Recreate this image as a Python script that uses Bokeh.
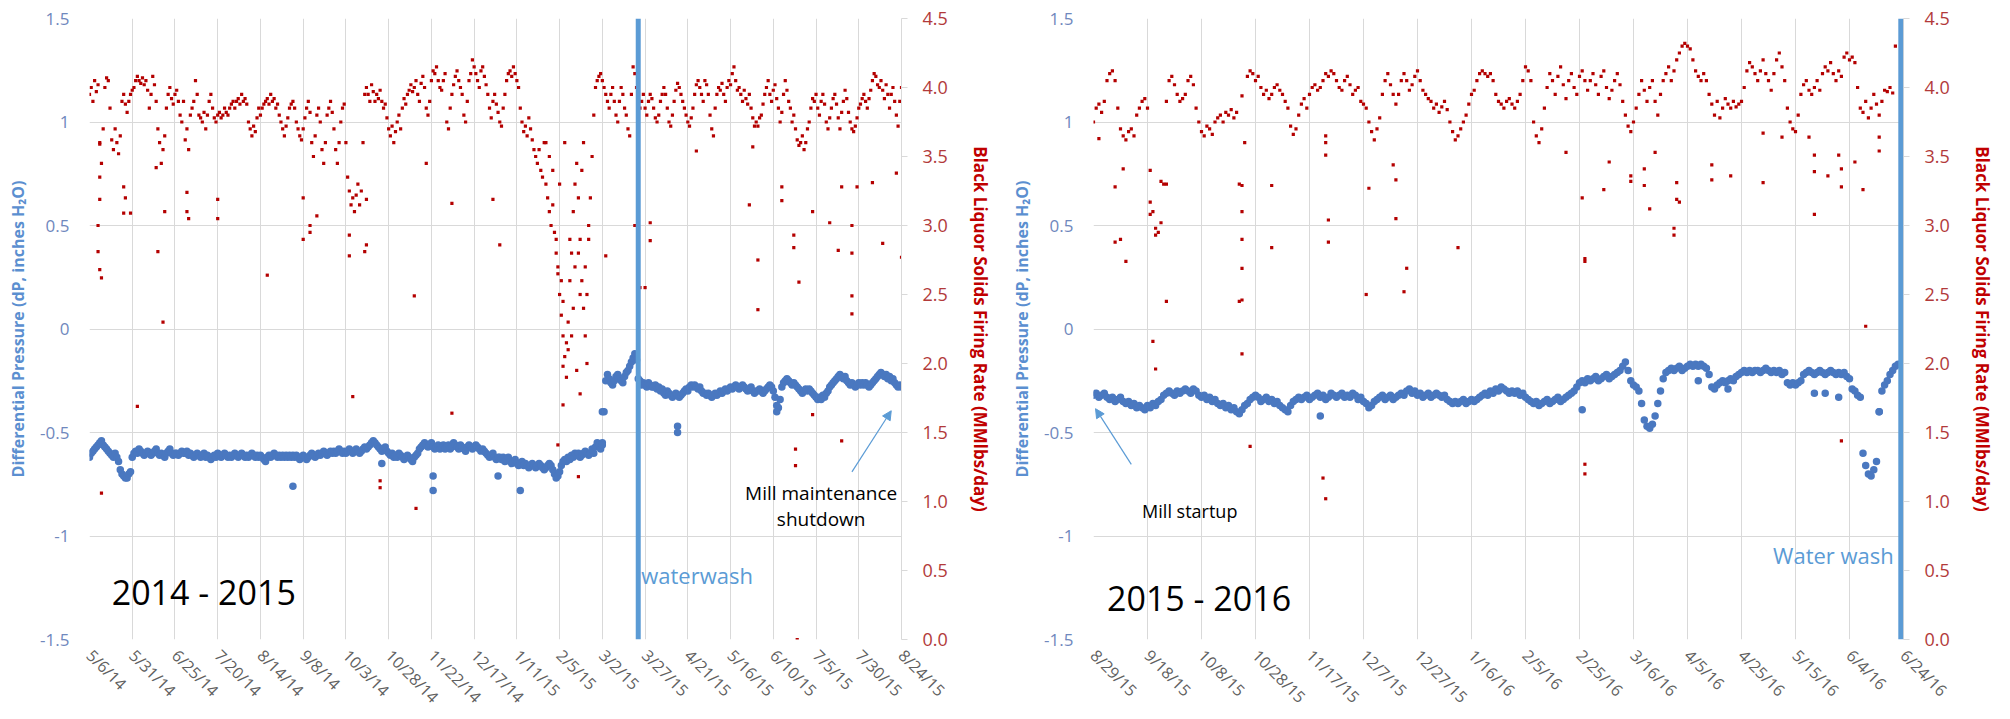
import math
import pandas as pd
from bokeh.plotting import figure
from bokeh.models import (Range1d, LinearAxis, FixedTicker, NumeralTickFormatter,
                          Span, Label, Arrow, NormalHead, ColumnDataSource)
from bokeh.layouts import row
from bokeh.embed import file_html
from bokeh.resources import INLINE

# ---------------------------------------------------------------- data
left_tick_labels = ["5/6/14", "5/31/14", "6/25/14", "7/20/14", "8/14/14", "9/8/14", "10/3/14",
                    "10/28/14", "11/22/14", "12/17/14", "1/11/15", "2/5/15", "3/2/15", "3/27/15",
                    "4/21/15", "5/16/15", "6/10/15", "7/5/15", "7/30/15", "8/24/15"]
right_tick_labels = ["8/29/15", "9/18/15", "10/8/15", "10/28/15", "11/17/15", "12/7/15", "12/27/15",
                     "1/16/16", "2/5/16", "2/25/16", "3/16/16", "4/5/16", "4/25/16", "5/15/16",
                     "6/4/16", "6/24/16"]
dp_tick_labels = ["-1.5", "-1", "-0.5", "0", "0.5", "1", "1.5"]
rate_tick_labels = ["0.0", "0.5", "1.0", "1.5", "2.0", "2.5", "3.0", "3.5", "4.0", "4.5"]

left_title = "2014 - 2015"
right_title = "2015 - 2016"
left_wash_date = "2015-03-23"
right_wash_date = "2016-06-23"

# daily black liquor solids firing rate (MMlbs/day), 2014-05-06 .. 2015-08-24
left_rate_start = "2014-05-06"
left_rate = [
    3.95, 4.0, 3.9, 4.05, 3.97, 4.02, 3.6, 3.45, 3.7, 4.0, 4.07, 4.05, 3.85, 3.62, 3.55, 3.7, 3.6, 3.52, 3.65, 3.9, 3.95, 3.88, 3.82, 3.9, 3.95, 3.98,
    4.0, 4.05, 4.08, 4.05, 4.03, 4.07, 4.02, 4.05, 3.98, 3.85, 3.95, 4.08, 4.02, 3.9, 3.7, 3.6, 3.45, 3.55, 3.65, 3.85, 3.95, 4.0, 3.92, 3.88, 3.95, 3.98, 3.9, 3.8, 3.75, 3.9,
    3.62, 3.7, 3.55, 3.8, 3.85, 3.9, 4.05, 3.95, 3.8, 3.78, 3.75, 3.82, 3.7, 3.8, 3.9, 3.95, 3.85, 3.78, 3.75, 3.8, 3.82, 3.78, 3.8, 3.85, 3.82, 3.8, 3.85, 3.88, 3.9, 3.85, 3.9,
    3.92, 3.88, 3.95, 3.9, 3.92, 3.88, 3.75, 3.7, 3.65, 3.72, 3.68, 3.78, 3.85, 3.8, 3.85, 3.88, 3.9, 3.92, 3.88, 3.95, 3.9, 3.92, 3.85, 3.88, 3.8, 3.75, 3.7, 3.65, 3.72, 3.78, 3.85,
    3.88, 3.9, 3.85, 3.75, 3.7, 3.65, 3.62, 3.7, 3.78, 3.85, 3.9, 3.82, 3.6, 3.5, 3.65, 3.8, 3.85, 3.75, 3.55, 3.45, 3.6, 3.8, 3.85, 3.9, 3.82, 3.7, 3.55, 3.45, 3.6, 3.75,
    3.85, 3.88, 3.6, 3.35, 3.25, 3.15, 3.2, 3.1, 3.22, 3.3, 3.15, 3.25, 3.6, 3.95, 4.0, 3.95, 3.9, 4.02, 3.97, 3.9, 3.95, 3.92, 3.98, 3.9, 3.85, 3.88, 3.78, 3.7, 3.65, 3.72, 3.6,
    3.68, 3.75, 3.8, 3.7, 3.85, 3.92, 3.88, 3.95, 3.98, 4.02, 3.97, 4.0, 4.05, 3.95, 3.9, 4.03, 4.08, 4.0, 3.85, 3.8, 3.9, 4.05, 4.12, 4.1, 4.15, 4.05, 4.0, 3.98, 4.05, 4.1,
    3.75, 3.7, 3.85, 3.95, 4.02, 4.08, 4.12, 4.05, 4.0, 3.95, 3.8, 3.75, 3.9, 4.05, 4.1, 4.2, 4.15, 4.1, 4.05, 4.0, 4.12, 4.15, 4.08, 4.02, 3.95, 3.85, 3.78, 3.9, 3.95, 3.88, 3.82,
    3.75, 3.72, 3.85, 3.95, 4.05, 4.1, 4.12, 4.08, 4.15, 4.1, 4.05, 4.0, 3.85, 3.75, 3.68, 3.72, 3.65, 3.78, 3.7, 3.62, 3.55, 3.5, 3.45, 3.55, 3.4, 3.35, 3.6, 3.3, 3.2, 3.1, 3.0,
    3.15, 2.95, 2.8, 2.65, 2.5, 2.35, 2.2, 2.05, 2.15, 2.3, 2.6, 2.8, 3.1, 3.3, 3.45, 3.2, 2.9, 2.6, 2.4, 2.2, 2.5, 2.9, 3.2, 3.5, 3.8, 4.0, 4.05, 4.08,
    4.1, 4.05, 4.0, 3.95, 3.9, 3.85, 3.95, 4.0, 3.9, 3.8, 3.75, 3.9, 4.0, 3.95, 3.85, 3.8, 3.7, 3.65, 3.95, 4.15, 4.1, 4.0, 3.8, 3.85, 3.9, 3.95, 3.85, 3.8, 3.9, 3.95, 3.92,
    3.85, 3.78, 3.75, 3.8, 3.9, 3.95, 4.0, 3.95, 3.85, 3.75, 3.72, 3.8, 3.9, 3.98, 4.03, 4.0, 3.95, 3.9, 3.85, 3.8, 3.75, 3.72, 3.78, 3.85, 3.95, 4.02, 4.05, 4.0, 3.95, 3.9,
    4.05, 4.02, 3.95, 3.8, 3.7, 3.65, 3.85, 3.95, 4.0, 3.98, 4.03, 3.95, 3.9, 4.0, 4.05, 4.02, 4.1, 4.15, 4.05, 3.98, 4.0, 3.95, 3.9, 3.98, 3.92, 3.88, 3.95, 3.85, 3.78, 3.72, 3.75,
    3.72, 3.78, 3.8, 3.88, 3.95, 4.0, 4.05, 3.95, 3.9, 3.98, 4.02, 3.92, 3.85, 3.75, 3.82, 3.95, 4.05, 3.98, 3.9, 3.85, 3.75, 3.8, 3.7, 3.62, 3.58, 3.6, 3.65, 3.55, 3.6, 3.7,
    3.75, 3.85, 3.92, 3.9, 3.95, 3.85, 3.8, 3.9, 3.95, 3.88, 3.75, 3.7, 3.78, 3.85, 3.92, 3.95, 3.88, 3.78, 3.7, 3.82, 3.9, 3.98, 3.92, 3.82, 3.75, 3.7, 3.68, 3.72, 3.78, 3.85, 3.88,
    3.92, 3.95, 3.9, 3.85, 3.92, 3.98, 4.05, 4.1, 4.08, 4.02, 4.0, 4.05, 3.98, 3.92, 4.02, 3.95, 3.85, 3.95, 4.0, 3.9, 3.8, 3.72, 3.9, 4.0,
]
left_rate_extra_dates = [
    "2014-05-12", "2014-05-12", "2014-05-12", "2014-05-11", "2014-05-11", "2014-05-12", "2014-05-13", "2014-05-13",
    "2014-05-26", "2014-05-26", "2014-05-27", "2014-05-30", "2014-06-03", "2014-06-14", "2014-06-15", "2014-06-18",
    "2014-06-19", "2014-07-02", "2014-07-02", "2014-07-03", "2014-07-20", "2014-07-20", "2014-08-18", "2014-09-08",
    "2014-09-08", "2014-09-12", "2014-09-12", "2014-09-16", "2014-10-05", "2014-10-05", "2014-10-07", "2014-10-14",
    "2014-10-15", "2014-10-15", "2014-10-23", "2014-10-23", "2014-11-12", "2014-11-13", "2014-11-19", "2014-12-04",
    "2014-12-04", "2014-12-28", "2015-01-01", "2015-01-28", "2015-01-30", "2015-02-01", "2015-02-03", "2015-02-04",
    "2015-02-04", "2015-02-05", "2015-02-06", "2015-02-07", "2015-02-07", "2015-02-07", "2015-02-08", "2015-02-09",
    "2015-02-10", "2015-02-11", "2015-02-12", "2015-02-13", "2015-02-14", "2015-02-15", "2015-02-16", "2015-02-16",
    "2015-02-17", "2015-02-17", "2015-02-18", "2015-02-19", "2015-02-20", "2015-02-21", "2015-02-22", "2015-03-04",
    "2015-03-21", "2015-03-22", "2015-03-23", "2015-03-24", "2015-03-27", "2015-03-30", "2015-03-30", "2015-04-26",
    "2015-05-27", "2015-05-29", "2015-06-01", "2015-06-01", "2015-06-15", "2015-06-15", "2015-06-22", "2015-06-22",
    "2015-06-25", "2015-06-23", "2015-06-23", "2015-06-24", "2015-07-03", "2015-07-03", "2015-07-13", "2015-07-18",
    "2015-07-20", "2015-07-20", "2015-07-26", "2015-07-26", "2015-07-26", "2015-07-26", "2015-07-29", "2015-08-07",
    "2015-08-13", "2015-08-21", "2015-08-24",
]
left_rate_extra = [
    3.59, 3.35, 3.19, 3.0, 2.81, 2.68, 2.62, 1.06,
    3.28, 3.09, 3.2, 3.09, 1.69, 3.42, 2.81, 2.30,
    3.1, 3.24, 3.1, 3.05, 3.19, 3.05, 2.64, 3.2,
    2.9, 3.0, 2.95, 3.07, 2.93, 2.78, 1.76, 2.81,
    2.86, 3.19, 1.15, 1.1, 2.49, 0.95, 3.45, 3.16,
    1.64, 3.19, 2.86, 3.6, 3.5, 3.4, 2.9, 2.7,
    1.41, 3.3, 2.6, 2.45, 1.70, 1.98, 3.6, 1.9,
    2.1, 2.9, 2.2, 2.4, 2.7, 1.95, 2.8, 1.18,
    2.5, 1.78, 3.4, 3.6, 2.7, 2.0, 3.0, 2.78,
    3.0, 3.0, 3.4, 2.55, 2.55, 3.02, 2.89, 3.54,
    3.15, 3.57, 2.75, 2.39, 3.28, 3.18, 2.93, 2.84,
    2.59, 1.38, 1.26, 0.0, 3.1, 1.63, 3.02, 2.82,
    3.28, 1.44, 2.8, 2.49, 2.36, 3.0, 3.28, 3.31,
    2.87, 3.38, 2.77,
]

# daily differential pressure (inches H2O), 2014-05-06 .. 2015-08-24
left_dp_start = "2014-05-06"
left_dp = [
    -0.62, -0.6, -0.59, -0.58, -0.57, -0.56, -0.55, -0.54, -0.56, -0.57, -0.58, -0.59, -0.6, -0.61, -0.62, -0.6, -0.62, -0.64, -0.68, -0.7, -0.71, -0.72, -0.72, -0.7, -0.69, -0.62,
    -0.6, -0.59, -0.6, -0.58, -0.59, -0.6, -0.61, -0.6, -0.59, -0.6, -0.61, -0.6, -0.59, -0.58, -0.6, -0.61, -0.6, -0.61, -0.62, -0.6, -0.59, -0.58, -0.6, -0.61, -0.6, -0.6, -0.61, -0.6, -0.59, -0.6,
    -0.6, -0.59, -0.61, -0.6, -0.61, -0.62, -0.61, -0.6, -0.61, -0.62, -0.61, -0.6, -0.62, -0.61, -0.62, -0.63, -0.62, -0.61, -0.62, -0.6, -0.61, -0.62, -0.61, -0.6, -0.61, -0.62, -0.61, -0.62, -0.61, -0.6, -0.61,
    -0.62, -0.61, -0.6, -0.61, -0.62, -0.61, -0.62, -0.61, -0.6, -0.61, -0.62, -0.61, -0.62, -0.61, -0.62, -0.63, -0.64, -0.62, -0.61, -0.62, -0.61, -0.6, -0.61, -0.62, -0.61, -0.62, -0.61, -0.62, -0.61, -0.62, -0.61,
    -0.62, -0.61, -0.62, -0.61, -0.62, -0.63, -0.62, -0.61, -0.62, -0.63, -0.62, -0.61, -0.6, -0.61, -0.62, -0.61, -0.6, -0.61, -0.6, -0.59, -0.6, -0.61, -0.6, -0.59, -0.6, -0.59, -0.6, -0.59, -0.58, -0.59,
    -0.6, -0.59, -0.6, -0.59, -0.58, -0.59, -0.6, -0.59, -0.58, -0.59, -0.6, -0.59, -0.58, -0.57, -0.58, -0.57, -0.56, -0.55, -0.54, -0.55, -0.56, -0.57, -0.58, -0.59, -0.58, -0.57, -0.59, -0.6, -0.61, -0.6, -0.62,
    -0.61, -0.62, -0.6, -0.61, -0.62, -0.63, -0.62, -0.61, -0.62, -0.63, -0.64, -0.62, -0.61, -0.6, -0.58, -0.57, -0.56, -0.55, -0.56, -0.57, -0.56, -0.55, -0.57, -0.58, -0.57, -0.56, -0.58, -0.57, -0.56, -0.58,
    -0.57, -0.56, -0.58, -0.57, -0.55, -0.56, -0.57, -0.58, -0.56, -0.57, -0.58, -0.59, -0.57, -0.56, -0.57, -0.58, -0.57, -0.56, -0.57, -0.58, -0.59, -0.58, -0.59, -0.6, -0.61, -0.62, -0.61, -0.6, -0.62, -0.63, -0.62,
    -0.62, -0.63, -0.62, -0.64, -0.63, -0.62, -0.64, -0.65, -0.64, -0.63, -0.65, -0.66, -0.65, -0.64, -0.66, -0.65, -0.66, -0.67, -0.66, -0.65, -0.66, -0.67, -0.66, -0.65, -0.66, -0.67, -0.68, -0.67, -0.66, -0.65, -0.66,
    -0.68, -0.7, -0.72, -0.71, -0.69, -0.66, -0.64, -0.63, -0.64, -0.62, -0.63, -0.61, -0.62, -0.6, -0.61, -0.6, -0.62, -0.61, -0.6, -0.59, -0.6, -0.61, -0.6, -0.58, -0.6, -0.57, -0.55, -0.56,
    -0.58, -0.55, -0.4, -0.25, -0.22, -0.24, -0.26, -0.27, -0.25, -0.23, -0.22, -0.24, -0.25, -0.26, -0.23, -0.21, -0.2, -0.18, -0.16, -0.14, -0.12, -0.15, -0.24, -0.25, -0.27, -0.26, -0.27, -0.28, -0.26, -0.27, -0.28,
    -0.28, -0.27, -0.29, -0.28, -0.3, -0.29, -0.31, -0.32, -0.3, -0.31, -0.32, -0.33, -0.32, -0.31, -0.32, -0.33, -0.32, -0.31, -0.3, -0.29, -0.3, -0.28, -0.27, -0.28, -0.27, -0.28, -0.29, -0.28, -0.3, -0.31,
    -0.31, -0.32, -0.31, -0.32, -0.33, -0.32, -0.31, -0.32, -0.31, -0.3, -0.31, -0.3, -0.29, -0.3, -0.29, -0.28, -0.29, -0.28, -0.27, -0.28, -0.29, -0.28, -0.27, -0.28, -0.29, -0.3, -0.29, -0.28, -0.3, -0.31, -0.3,
    -0.3, -0.29, -0.3, -0.31, -0.3, -0.29, -0.28, -0.27, -0.28, -0.3, -0.33, -0.37, -0.38, -0.34, -0.28, -0.26, -0.25, -0.24, -0.25, -0.26, -0.27, -0.26, -0.27, -0.28, -0.29, -0.3, -0.31, -0.3, -0.29, -0.3,
    -0.29, -0.3, -0.31, -0.32, -0.33, -0.34, -0.33, -0.34, -0.32, -0.33, -0.31, -0.3, -0.28, -0.27, -0.26, -0.25, -0.24, -0.23, -0.22, -0.23, -0.24, -0.23, -0.25, -0.26, -0.27, -0.26, -0.27, -0.28, -0.27, -0.26, -0.27,
    -0.26, -0.27, -0.26, -0.27, -0.28, -0.27, -0.26, -0.25, -0.24, -0.23, -0.22, -0.21, -0.22, -0.23, -0.22, -0.24, -0.23, -0.25, -0.24, -0.26, -0.27, -0.28, -0.27, -0.28,
]
left_dp_extra_dates = ["2014-09-02", "2014-10-24", "2014-11-23", "2014-11-23", "2014-12-31", "2015-01-13",
                       "2015-03-02", "2015-03-02", "2015-04-15", "2015-04-15", "2015-06-12"]
left_dp_extra = [-0.76, -0.65, -0.71, -0.78, -0.71, -0.78, -0.4, -0.56, -0.47, -0.5, -0.4]

# daily firing rate, 2015-08-29 .. 2016-06-21
right_rate_start = "2015-08-29"
right_rate = [
    3.75, 3.85, 3.88,
    3.82, 3.9, 4.05, 4.1, 4.12, 4.05, 3.85, 3.7, 3.65, 3.62, 3.68, 3.7, 3.65, 3.8, 3.85, 3.9, 3.92, 3.85, 3.4, 3.1, 2.98, 2.95, 3.02, 3.3, 3.9, 4.05, 4.08, 4.02, 3.95, 3.9,
    3.92, 3.95, 4.05, 4.08, 4.02, 3.85, 3.75, 3.68, 3.65, 3.72, 3.7, 3.66, 3.75, 3.78, 3.8, 3.75, 3.82, 3.8, 3.84, 3.78, 3.82, 3.3, 2.9, 3.6, 4.08, 4.12, 4.1, 4.05, 4.08, 4.0, 3.95,
    3.98, 3.92, 3.95, 4.0, 4.02, 3.98, 3.95, 3.9, 3.85, 3.72, 3.66, 3.7, 3.8, 3.88, 3.92, 3.85, 3.95, 4.0, 4.02, 3.98, 4.0, 4.05, 4.1, 4.08, 4.12, 4.1, 4.05, 4.0, 3.98, 4.05,
    4.08, 4.02, 3.95, 3.98, 4.0, 3.9, 3.88, 3.85, 3.75, 3.68, 3.62, 3.7, 3.78, 3.95, 4.05, 4.1, 4.02, 3.95, 3.88, 3.95, 4.05, 4.1, 4.05, 3.98, 4.02, 4.08, 4.12, 4.05, 3.98, 3.95, 3.92,
    3.9, 3.85, 3.88, 3.82, 3.86, 3.9, 3.84, 3.75, 3.68, 3.62, 3.65, 3.7, 3.75, 3.8, 3.88, 3.95, 3.98, 4.05, 4.1, 4.12, 4.1, 4.08, 4.1, 4.05, 3.95, 3.9, 3.88, 3.85, 3.9, 3.92, 3.88,
    3.85, 3.9, 3.95, 4.05, 4.15, 4.12, 4.05, 3.75, 3.65, 3.6, 3.7, 3.85, 4.0, 4.1, 4.05, 3.95, 4.08, 4.15, 4.02, 3.92, 4.05, 4.1, 4.0, 3.95, 4.08, 4.12, 4.05, 3.98, 4.05,
    4.1, 4.02, 3.95, 4.08, 4.12, 4.0, 3.92, 3.98, 4.05, 4.1, 4.02, 3.9, 3.8, 3.72, 3.68, 3.75, 3.85, 3.95, 4.05, 3.98, 3.9, 4.0, 4.05, 3.9, 3.8, 3.95, 4.05, 4.1, 4.15, 4.05, 4.12,
    4.2, 4.25, 4.3, 4.32, 4.3, 4.28, 4.2, 4.12, 4.08, 4.05, 4.1, 4.05, 3.95, 3.88, 3.8, 3.9, 3.78, 3.85, 3.92, 3.88, 3.85, 3.9, 3.86, 3.88, 3.9, 4.0, 4.12, 4.18, 4.15, 4.1,
    4.05, 4.12, 4.2, 4.1, 4.05, 3.98, 4.1, 4.2, 4.25, 4.15, 4.05, 3.85, 3.75, 3.7, 3.68, 3.8, 3.95, 4.02, 4.05, 3.98, 3.95, 4.0, 4.05, 3.98, 4.1, 4.15, 4.12, 4.18, 4.1, 4.05, 4.12,
    4.08, 4.22, 4.25, 4.2, 4.22, 4.18, 4.0, 3.85, 3.82, 3.9, 3.78, 3.85, 3.95, 3.88, 3.8, 3.9, 3.98, 3.97, 4.0, 3.96, 4.3,
]
right_rate_extra_dates = [
    "2015-08-31", "2015-09-06", "2015-09-06", "2015-09-08", "2015-09-09", "2015-09-10", "2015-09-19", "2015-09-19",
    "2015-09-20", "2015-09-21", "2015-09-21", "2015-09-23", "2015-09-25", "2015-09-25", "2015-10-22", "2015-10-23",
    "2015-10-23", "2015-10-23", "2015-10-23", "2015-10-23", "2015-10-23", "2015-10-26", "2015-11-03", "2015-11-03",
    "2015-11-22", "2015-11-23", "2015-11-23", "2015-11-23", "2015-11-23", "2015-11-24", "2015-11-24", "2015-12-08",
    "2015-12-09", "2015-12-18", "2015-12-19", "2015-12-19", "2015-12-23", "2015-12-22", "2016-01-11", "2016-02-20",
    "2016-02-26", "2016-02-27", "2016-02-27", "2016-02-27", "2016-02-27", "2016-03-05", "2016-03-07", "2016-03-15",
    "2016-03-15", "2016-03-20", "2016-03-20", "2016-03-22", "2016-03-24", "2016-03-31", "2016-03-31", "2016-04-01",
    "2016-04-01", "2016-04-02", "2016-04-14", "2016-04-14", "2016-04-21", "2016-05-03", "2016-05-03", "2016-05-10",
    "2016-05-20", "2016-05-22", "2016-05-22", "2016-05-22", "2016-05-27", "2016-05-31", "2016-06-01", "2016-06-01",
    "2016-06-01", "2016-06-06", "2016-06-09", "2016-06-10", "2016-06-15", "2016-06-15",
]
right_rate_extra = [
    3.63, 3.28, 2.88, 2.9, 3.41, 2.74, 3.17, 3.08,
    2.16, 2.93, 1.96, 3.32, 2.45, 3.3, 2.45, 3.29,
    3.1, 2.69, 2.46, 2.07, 3.94, 1.4, 3.29, 2.84,
    1.17, 1.02, 3.51, 3.65, 3.6, 3.04, 2.88, 2.5,
    3.27, 3.44, 3.05, 3.33, 2.69, 2.52, 2.84, 3.53,
    3.2, 2.74, 2.76, 1.27, 1.2, 3.26, 3.46, 3.36,
    3.32, 3.29, 3.41, 3.12, 3.53, 2.98, 2.93, 3.31,
    3.19, 3.17, 3.44, 3.33, 3.36, 3.31, 3.67, 3.64,
    3.64, 3.51, 3.39, 3.08, 3.36, 3.51, 3.41, 3.28,
    1.44, 3.46, 3.26, 2.27, 3.54, 3.64,
]

# daily differential pressure, 2015-08-29 .. 2016-06-22
right_dp_start = "2015-08-29"
right_dp = [
    -0.32, -0.31, -0.33,
    -0.32, -0.31, -0.33, -0.34, -0.33, -0.35, -0.34, -0.33, -0.35, -0.36, -0.35, -0.37, -0.36, -0.38, -0.37, -0.38, -0.39, -0.37, -0.38, -0.36, -0.37, -0.35, -0.34, -0.32, -0.31, -0.3, -0.31, -0.32, -0.3, -0.31,
    -0.3, -0.29, -0.3, -0.31, -0.29, -0.3, -0.32, -0.33, -0.32, -0.34, -0.33, -0.35, -0.34, -0.36, -0.37, -0.36, -0.38, -0.37, -0.39, -0.38, -0.4, -0.41, -0.39, -0.37, -0.36, -0.34, -0.33, -0.32, -0.33, -0.35, -0.34,
    -0.33, -0.35, -0.34, -0.36, -0.35, -0.37, -0.38, -0.39, -0.4, -0.37, -0.35, -0.34, -0.33, -0.34, -0.33, -0.32, -0.34, -0.33, -0.32, -0.31, -0.33, -0.32, -0.34, -0.33, -0.31, -0.32, -0.33, -0.32, -0.31, -0.33,
    -0.32, -0.33, -0.31, -0.32, -0.34, -0.33, -0.35, -0.36, -0.38, -0.37, -0.35, -0.34, -0.33, -0.32, -0.34, -0.33, -0.32, -0.34, -0.33, -0.32, -0.31, -0.32, -0.3, -0.29, -0.31, -0.3, -0.32, -0.31, -0.33, -0.32, -0.31,
    -0.33, -0.32, -0.31, -0.32, -0.33, -0.32, -0.34, -0.35, -0.36, -0.35, -0.36, -0.35, -0.34, -0.36, -0.35, -0.34, -0.35, -0.34, -0.33, -0.32, -0.31, -0.32, -0.3, -0.31, -0.29, -0.3, -0.28, -0.29, -0.3, -0.31, -0.3,
    -0.31, -0.3, -0.32, -0.31, -0.33, -0.34, -0.35, -0.36, -0.35, -0.37, -0.36, -0.35, -0.34, -0.36, -0.35, -0.34, -0.33, -0.35, -0.34, -0.33, -0.32, -0.31, -0.3, -0.28, -0.26, -0.25, -0.26, -0.24, -0.25,
    -0.24, -0.23, -0.25, -0.24, -0.23, -0.22, -0.24, -0.23, -0.22, -0.21, -0.2, -0.18, -0.16, -0.2, -0.25, -0.27, -0.28, -0.3, -0.36, -0.44, -0.47, -0.48, -0.46, -0.42, -0.36, -0.3, -0.24, -0.21, -0.2, -0.19, -0.2,
    -0.19, -0.18, -0.2, -0.19, -0.18, -0.17, -0.18, -0.17, -0.18, -0.17, -0.18, -0.19, -0.22, -0.28, -0.29, -0.27, -0.26, -0.25, -0.26, -0.25, -0.24, -0.25, -0.23, -0.22, -0.21, -0.2, -0.21, -0.2, -0.21, -0.2,
    -0.2, -0.21, -0.2, -0.19, -0.2, -0.21, -0.2, -0.21, -0.2, -0.22, -0.21, -0.26, -0.27, -0.26, -0.27, -0.26, -0.25, -0.22, -0.21, -0.2, -0.21, -0.22, -0.21, -0.2, -0.21, -0.22, -0.21, -0.2, -0.21, -0.22, -0.21,
    -0.22, -0.21, -0.23, -0.24, -0.29, -0.3, -0.32, -0.33, -0.6, -0.66, -0.7, -0.71, -0.68, -0.64, -0.4, -0.3, -0.27, -0.25, -0.22, -0.2, -0.18, -0.17,
]
right_dp_extra_dates = ["2015-11-21", "2016-02-26", "2016-04-09", "2016-04-20", "2016-05-22", "2016-05-26",
                        "2016-05-31", "2016-06-15"]
right_dp_extra = [-0.42, -0.39, -0.25, -0.29, -0.31, -0.31, -0.33, -0.4]

# ---------------------------------------------------------------- helpers
FONT = "Open Sans"
BLUE = "#4a78c0"
RED = "#b40000"
WASH = "#5b9bd5"
GRID = "#d9d9d9"


def ms(d):
    return int(pd.Timestamp(d).value // 10**6)


def daily(start, n):
    return [int(t.value // 10**6) for t in pd.date_range(start, periods=n, freq="D")]


def make_panel(width, borders, tick_labels, rate_start, rate, rate_xd, rate_xv,
               dp_start, dp, dp_xd, dp_xv, wash_date):
    ml, mr, mt, mb = borders
    xt = [ms(pd.to_datetime(s, format="%m/%d/%y")) for s in tick_labels]
    p = figure(width=width, height=719, x_range=Range1d(xt[0], xt[-1]),
               y_range=Range1d(-1.5, 1.5), output_backend="svg", toolbar_location=None,
               min_border_left=ml, min_border_right=mr, min_border_top=mt, min_border_bottom=mb)
    p.outline_line_color = None
    p.background_fill_color = "white"
    p.border_fill_color = "white"

    bax = p.below[0]
    bax.ticker = FixedTicker(ticks=xt)
    bax.major_label_overrides = dict(zip(xt, tick_labels))
    bax.major_label_orientation = -math.pi / 4
    bax.axis_line_color = None
    bax.major_tick_line_color = None
    bax.minor_tick_line_color = None
    bax.major_tick_out = 0
    bax.major_label_standoff = 13
    bax.major_label_text_color = "#606060"
    bax.major_label_text_font = FONT
    bax.major_label_text_font_size = "16px"

    yt = [float(s) for s in dp_tick_labels]
    lax = p.left[0]
    lax.ticker = FixedTicker(ticks=yt)
    lax.major_label_overrides = dict(zip(yt, dp_tick_labels))
    lax.axis_line_color = None
    lax.major_tick_line_color = None
    lax.minor_tick_line_color = None
    lax.major_tick_out = 0
    lax.major_label_standoff = 20
    lax.major_label_text_color = "#7088bd"
    lax.major_label_text_font = FONT
    lax.major_label_text_font_size = "17px"
    lax.axis_label = "Differential Pressure (dP, inches H\u2082O)"
    lax.axis_label_text_font = FONT
    lax.axis_label_text_font_style = "bold"
    lax.axis_label_text_font_size = "16px"
    lax.axis_label_text_color = "#5b8fd0"
    lax.axis_label_standoff = 8

    p.xgrid.grid_line_color = GRID
    p.ygrid.grid_line_color = GRID

    p.extra_y_ranges = {"rate": Range1d(0, 4.5)}
    rt = [float(s) for s in rate_tick_labels]
    rax = LinearAxis(y_range_name="rate", ticker=FixedTicker(ticks=rt),
                     formatter=NumeralTickFormatter(format="0.0"))
    rax.axis_line_color = GRID
    rax.major_tick_line_color = GRID
    rax.major_tick_out = 6
    rax.major_tick_in = 0
    rax.minor_tick_line_color = None
    rax.major_label_standoff = 15
    rax.major_label_text_color = "#b23a3a"
    rax.major_label_text_font = FONT
    rax.major_label_text_font_size = "18px"
    rax.axis_label = "Black Liquor Solids Firing Rate (MMlbs/day)"
    rax.axis_label_text_font = FONT
    rax.axis_label_text_font_style = "bold"
    rax.axis_label_text_font_size = "17px"
    rax.axis_label_text_color = "#c00000"
    rax.axis_label_standoff = 18
    p.add_layout(rax, "right")

    dsrc = ColumnDataSource(dict(x=daily(dp_start, len(dp)) + [ms(d) for d in dp_xd],
                                 y=list(dp) + list(dp_xv)))
    p.scatter("x", "y", source=dsrc, size=7.5, color=BLUE, line_width=0)

    rsrc = ColumnDataSource(dict(x=daily(rate_start, len(rate)) + [ms(d) for d in rate_xd],
                                 y=list(rate) + list(rate_xv)))
    p.scatter("x", "y", source=rsrc, marker="square", size=3.2, color=RED, line_width=0,
              y_range_name="rate")

    p.add_layout(Span(location=ms(wash_date), dimension="height", line_color=WASH, line_width=5))
    return p


left = make_panel(1000, (89, 99, 18, 74), left_tick_labels, left_rate_start, left_rate,
                  left_rate_extra_dates, left_rate_extra, left_dp_start, left_dp,
                  left_dp_extra_dates, left_dp_extra, left_wash_date)
right = make_panel(1010, (93, 107, 15, 80), right_tick_labels, right_rate_start, right_rate,
                   right_rate_extra_dates, right_rate_extra, right_dp_start, right_dp,
                   right_dp_extra_dates, right_dp_extra, right_wash_date)

# ---------------------------------------------------------------- annotations
left.add_layout(Label(x=ms("2014-05-19"), y=-1.27, text=left_title, text_font=FONT,
                      text_font_size="34px", text_color="black", text_baseline="middle"))
left.add_layout(Label(x=ms(left_wash_date), y=-1.19, x_offset=3, text="waterwash", text_font=FONT,
                      text_font_size="22px", text_color=WASH, text_baseline="middle"))
left.add_layout(Label(x=ms("2015-07-08"), y=-0.79, text="Mill maintenance", text_font=FONT,
                      text_font_size="19px", text_color="black", text_baseline="middle",
                      text_align="center"))
left.add_layout(Label(x=ms("2015-07-08"), y=-0.92, text="shutdown", text_font=FONT,
                      text_font_size="19px", text_color="black", text_baseline="middle",
                      text_align="center"))
left.add_layout(Arrow(x_start=ms("2015-07-26"), y_start=-0.69, x_end=ms("2015-08-18"), y_end=-0.395,
                      line_color=WASH, line_width=1.2,
                      end=NormalHead(size=9, fill_color=WASH, line_color=WASH)))

right.add_layout(Label(x=ms("2015-09-03"), y=-1.30, text=right_title, text_font=FONT,
                       text_font_size="34px", text_color="black", text_baseline="middle"))
right.add_layout(Label(x=ms(right_wash_date), y=-1.09, x_offset=-7, text="Water wash", text_font=FONT,
                       text_font_size="22px", text_color=WASH, text_baseline="middle",
                       text_align="right"))
right.add_layout(Label(x=ms("2015-09-16"), y=-0.88, text="Mill startup", text_font=FONT,
                       text_font_size="18px", text_color="black", text_baseline="middle"))
right.add_layout(Arrow(x_start=ms("2015-09-12"), y_start=-0.654, x_end=ms("2015-08-29 18:00"), y_end=-0.385,
                       line_color=WASH, line_width=1.2,
                       end=NormalHead(size=9, fill_color=WASH, line_color=WASH)))

layout = row(left, right)
open("out.html", "w").write(file_html(layout, INLINE))
